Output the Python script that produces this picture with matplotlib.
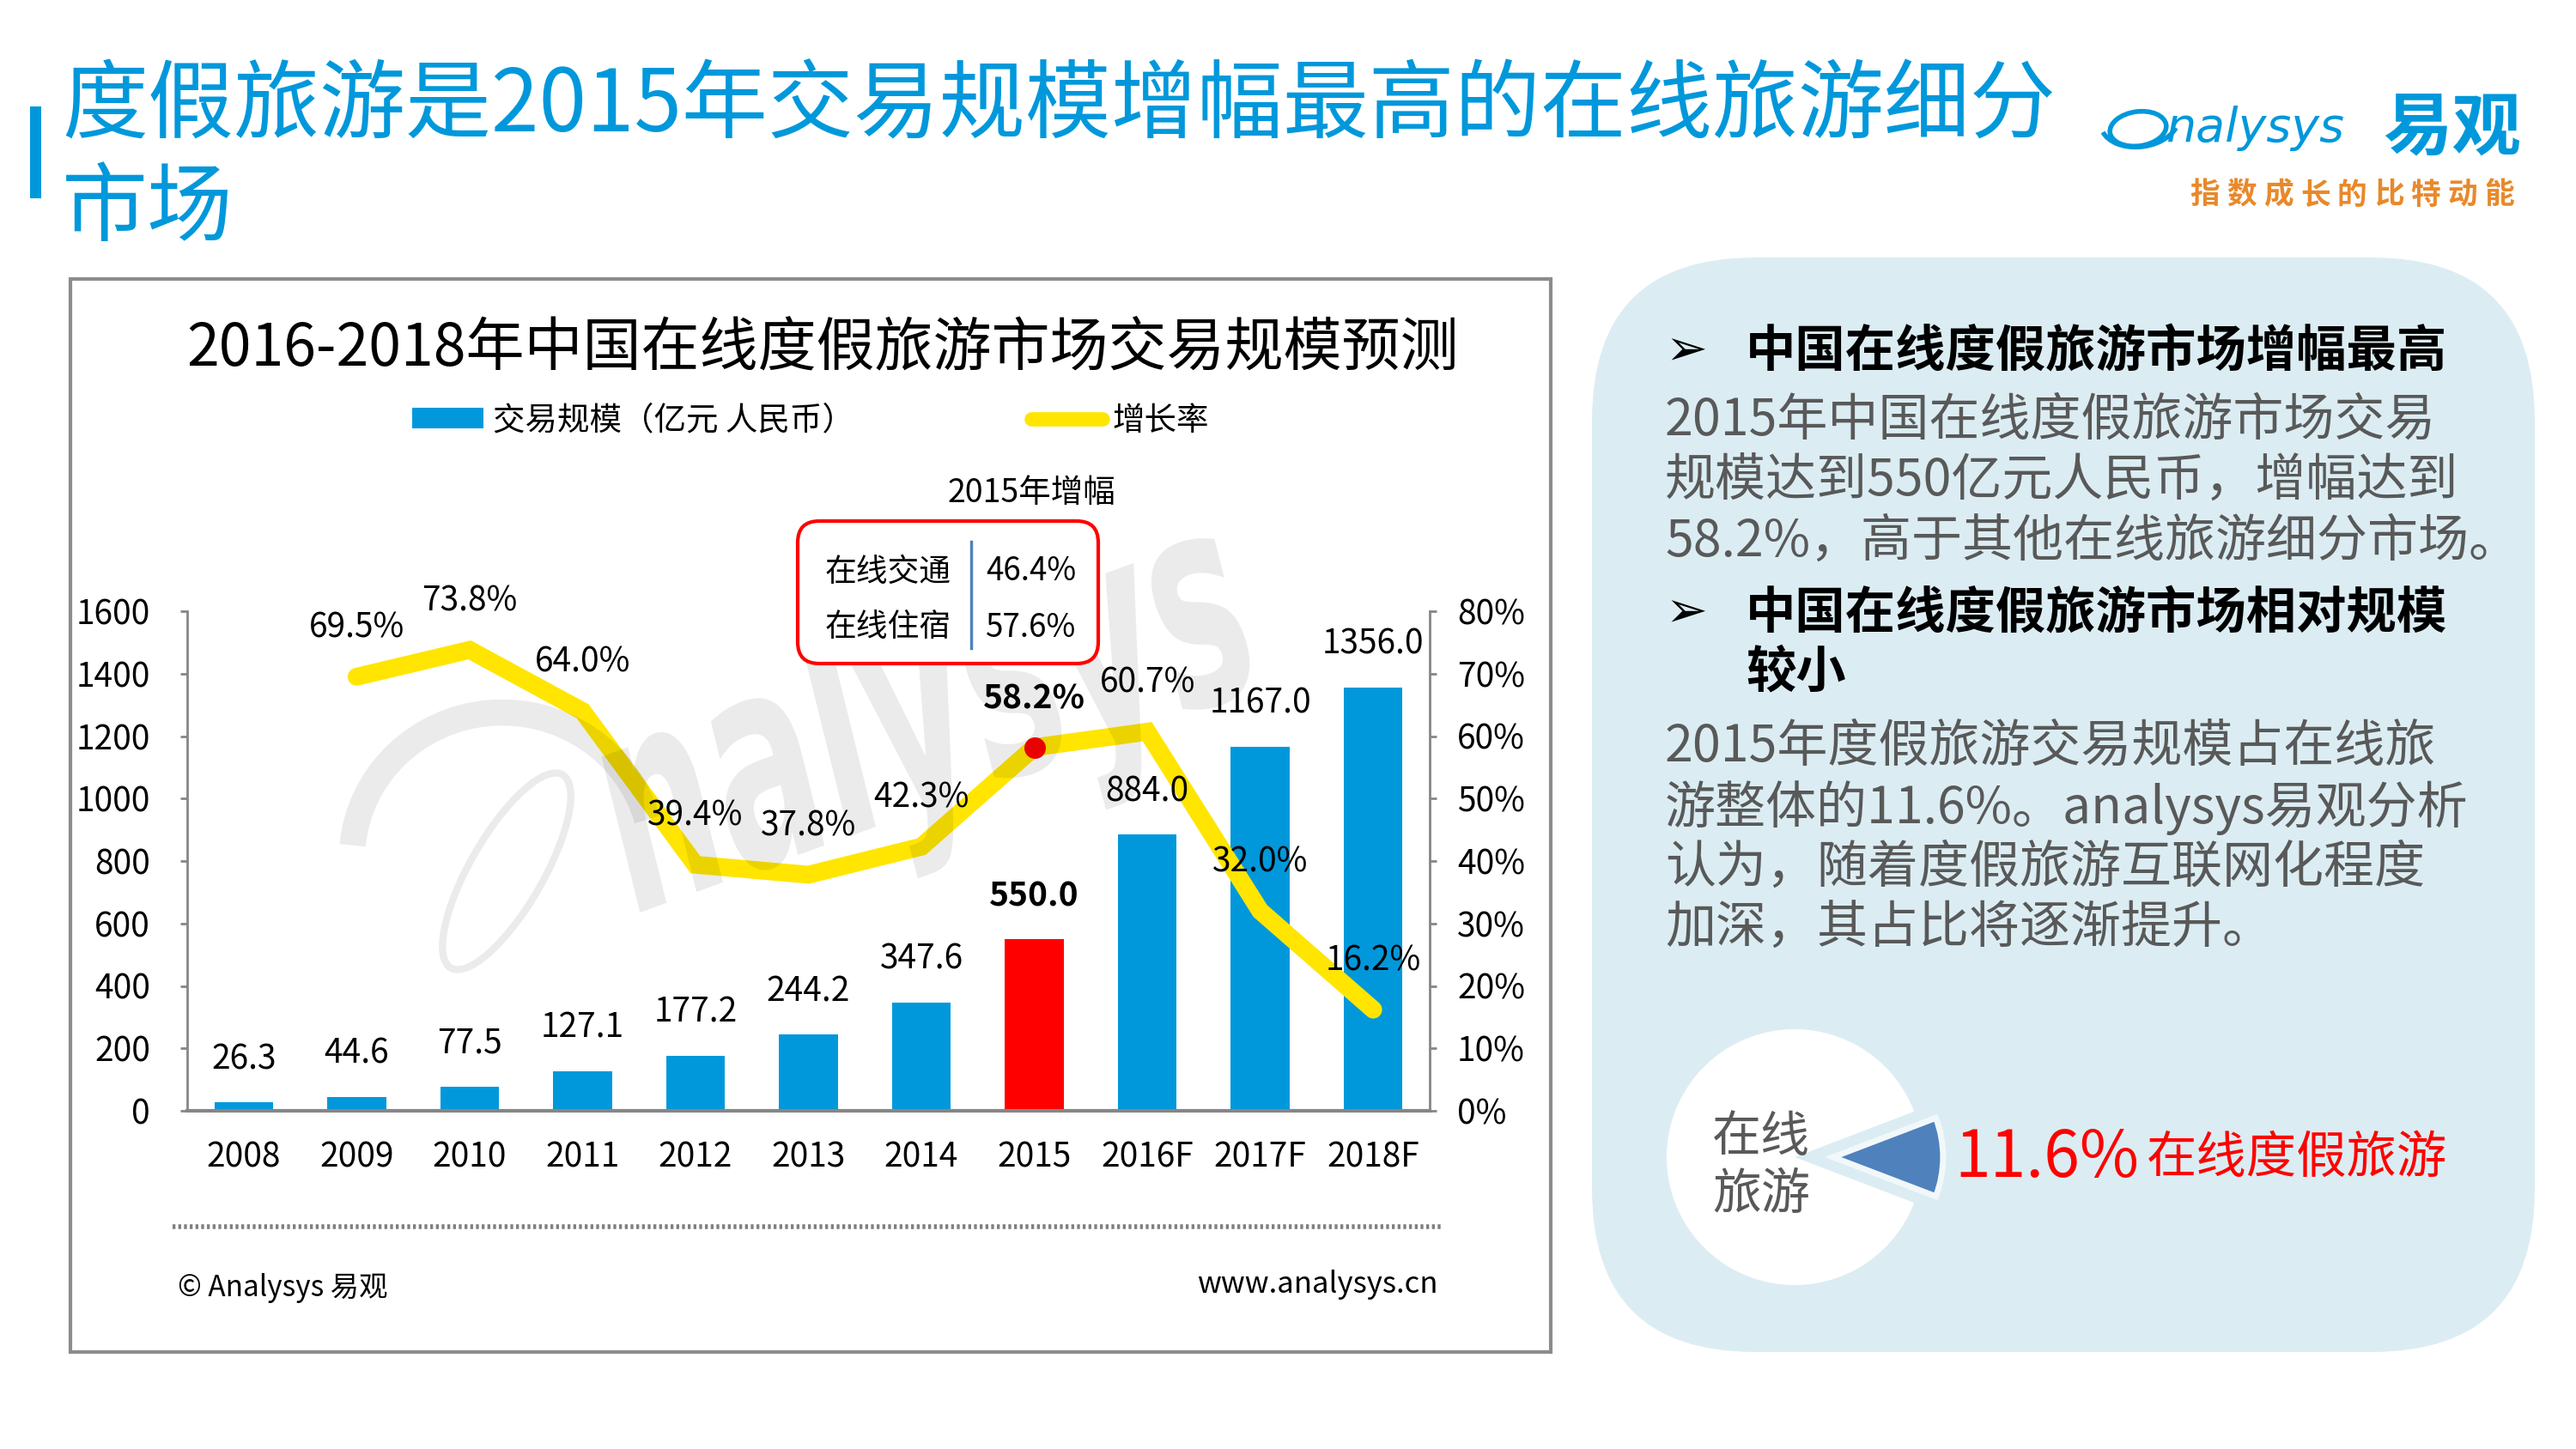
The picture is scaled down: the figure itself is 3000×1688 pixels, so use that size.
import matplotlib
matplotlib.use('Agg')
import matplotlib.pyplot as plt
from matplotlib.patches import Rectangle, FancyBboxPatch, Ellipse, Arc, PathPatch
from matplotlib.lines import Line2D
from matplotlib.ticker import FuncFormatter
from matplotlib.textpath import TextPath
from matplotlib.font_manager import FontProperties
from matplotlib.transforms import Affine2D
import numpy as np

plt.rcParams['font.family'] = ['Noto Sans CJK SC', 'DejaVu Sans']

# ---- data ----
years = ['2008', '2009', '2010', '2011', '2012', '2013', '2014', '2015', '2016F', '2017F', '2018F']
scale = [26.3, 44.6, 77.5, 127.1, 177.2, 244.2, 347.6, 550.0, 884.0, 1167.0, 1356.0]
growth_years = years[1:]
growth = [69.5, 73.8, 64.0, 39.4, 37.8, 42.3, 58.2, 60.7, 32.0, 16.2]
highlight = '2015'

seg_names = ['在线交通', '在线住宿']
seg_growth = [46.4, 57.6]

share_labels = ['在线度假旅游', '在线旅游']
share = [11.6, 88.4]

title = ['度假旅游是2015年交易规模增幅最高的在线旅游细分', '市场']
chart_title = '2016-2018年中国在线度假旅游市场交易规模预测'
legend_labels = ['交易规模（亿元 人民币）', '增长率']
heading1 = ['中国在线度假旅游市场增幅最高']
para1 = ['2015年中国在线度假旅游市场交易', '规模达到550亿元人民币，增幅达到',
         '58.2%，高于其他在线旅游细分市场。']
heading2 = ['中国在线度假旅游市场相对规模', '较小']
para2 = ['2015年度假旅游交易规模占在线旅', '游整体的11.6%。analysys易观分析',
         '认为，随着度假旅游互联网化程度', '加深，其占比将逐渐提升。']

BLUE = '#0098DB'
YELLOW = '#FFE500'
GRAY_TXT = '#595959'
AXIS_GRAY = '#868686'

W, H = 3000, 1688
fig = plt.figure(figsize=(W / 100, H / 100), dpi=100)


def frac(x0, y0, x1, y1):
    # pixel box (top-left origin) -> figure fraction
    return [x0 / W, 1 - y1 / H, (x1 - x0) / W, (y1 - y0) / H]


# background layer in pixel coords
bg = fig.add_axes([0, 0, 1, 1], zorder=0)
bg.set_xlim(0, W)
bg.set_ylim(H, 0)
bg.axis('off')

# page title
bg.add_patch(Rectangle((35, 124), 13, 107, color=BLUE, lw=0))
bg.text(72, 125, title[0], fontsize=72, color=BLUE, ha='left', va='center')
bg.text(72, 244, title[1], fontsize=72, color=BLUE, ha='left', va='center')

# logo
bg.add_patch(Ellipse((2490, 150), 66, 40, angle=-8, fill=False, ec=BLUE, lw=4))
bg.add_patch(Arc((2492, 140), 92, 62, angle=-8, theta1=20, theta2=170, ec=BLUE, lw=4))
bg.text(2522, 165, 'nalysys', fontsize=40, color=BLUE, style='italic',
        family='DejaVu Sans', ha='left', va='baseline')
bg.text(2856, 150, '易观', fontsize=58, color=BLUE, fontweight='bold', ha='center', va='center')
for i, ch in enumerate('指数成长的比特动能'):
    bg.text(2568 + i * 42.8, 227, ch, fontsize=25, color='#E8892B', fontweight='bold',
            ha='center', va='center')

# chart frame and footer
bg.add_patch(Rectangle((82, 325), 1724, 1250, fill=False, ec='#8C8C8C', lw=3))
bg.plot([201, 1680], [1429, 1429], color='#7F7F7F', lw=4, ls=(0, (0.6, 0.6)))
bg.text(207, 1500, '© Analysys 易观', fontsize=24, ha='left', va='center')
bg.text(1675, 1496, 'www.analysys.cn', fontsize=25, ha='right', va='center')
bg.text(958, 406, chart_title, fontsize=49, ha='center', va='center')

# right panel
bg.add_patch(FancyBboxPatch((1854, 300), 1098, 1275, boxstyle='round,pad=0,rounding_size=190',
                            fc='#DBEDF3', ec='none'))
bg.text(1940, 409, '➢', fontsize=42, ha='left', va='center')
bg.text(2033, 409, heading1[0], fontsize=42, fontweight='bold', ha='left', va='center')
for i, line in enumerate(para1):
    bg.text(1939, 490 + i * 70.5, line, fontsize=42.5, color=GRAY_TXT, ha='left', va='center')
bg.text(1940, 714, '➢', fontsize=42, ha='left', va='center')
for i, line in enumerate(heading2):
    bg.text(2033, 714 + i * 69, line, fontsize=42, fontweight='bold', ha='left', va='center')
for i, line in enumerate(para2):
    bg.text(1939, 870 + i * 70.7, line, fontsize=42.5, color=GRAY_TXT, ha='left', va='center')

# share pie
pax = fig.add_axes(frac(1890, 1148, 2290, 1548), zorder=1)
wedges, _ = pax.pie(share, colors=['#4F81BD', 'white'], startangle=-share[0] * 3.6 / 2,
                    explode=[0.3, 0], radius=1)
wedges[0].set_radius(0.86)
wedges[0].set_edgecolor('#F2F8FA')
wedges[0].set_linewidth(5)
pax.set_xlim(-1.342, 1.342)
pax.set_ylim(-1.342, 1.342)
pax.set_aspect('equal')
pax.text(-0.26, -0.07, share_labels[1][:2] + '\n' + share_labels[1][2:], fontsize=41,
         color=GRAY_TXT, ha='center', va='center', linespacing=1.2)
bg.text(2276, 1350, f'{share[0]}%', fontsize=54, color='red', ha='left', va='center')
bg.text(2500, 1349, share_labels[0], fontsize=42, color='red', ha='left', va='center')

# ---- main chart ----
ax = fig.add_axes(frac(218, 712, 1665, 1294), zorder=1)
ax.patch.set_alpha(0)
x = np.arange(len(years))
colors = ['#FF0000' if y == highlight else BLUE for y in years]
bars = ax.bar(x, scale, width=0.52, color=colors, zorder=2)
ax.set_xlim(-0.5, len(years) - 0.5)
ax.set_ylim(0, 1600)
ax.set_yticks(range(0, 1601, 200))
ax.set_xticks(x)
ax.set_xticklabels(years)
ax.spines['top'].set_visible(False)
ax.spines['right'].set_visible(False)
ax.spines['left'].set_color(AXIS_GRAY)
ax.spines['left'].set_linewidth(2)
ax.spines['bottom'].set_color(AXIS_GRAY)
ax.spines['bottom'].set_linewidth(3)
ax.tick_params(axis='y', length=6, width=2, color=AXIS_GRAY, pad=25, labelsize=28)
ax.tick_params(axis='x', length=0, pad=25, labelsize=28)

ax2 = ax.twinx()
ax2.set_ylim(0, 80)
ax2.set_yticks(range(0, 81, 10))
ax2.yaxis.set_major_formatter(FuncFormatter(lambda v, p: f'{v:.0f}%'))
for s in ['top', 'left', 'bottom']:
    ax2.spines[s].set_visible(False)
ax2.spines['right'].set_color(AXIS_GRAY)
ax2.spines['right'].set_linewidth(2)
ax2.tick_params(axis='y', length=6, width=2, color=AXIS_GRAY, pad=17, labelsize=28)
gx = x[1:]
ax2.plot(gx, growth, color=YELLOW, lw=15, solid_capstyle='round', solid_joinstyle='miter', zorder=3)
hi = growth_years.index(highlight)
ax2.plot(gx[hi], growth[hi], 'o', color='#FF0000', ms=17, zorder=4)
for xi, v, y in zip(gx, growth, growth_years):
    ax2.annotate(f'{v:.1f}%', (xi, v), xytext=(0, 41), textcoords='offset points',
                 ha='center', va='center', fontsize=28,
                 fontweight='bold' if y == highlight else 'normal', zorder=5)
# bar labels drawn above the line
for xi, v, y in zip(x, scale, years):
    ax2.annotate(f'{v:.1f}', (xi, v), xycoords=ax.transData, xytext=(0, 36),
                 textcoords='offset points', ha='center', va='center', fontsize=28,
                 fontweight='bold' if y == highlight else 'normal', zorder=5)

handles = [bars, Line2D([], [], color=YELLOW, lw=12, solid_capstyle='round')]
ax.legend(handles, legend_labels, loc='center', bbox_to_anchor=(944 / W, 1 - 490 / H),
          bbox_transform=fig.transFigure, ncol=2, frameon=False, fontsize=27,
          handlelength=2.2, handleheight=0.6, handletextpad=0.3, columnspacing=5.5)

# ---- foreground: watermark and 2015 box ----
fg = fig.add_axes([0, 0, 1, 1], zorder=3)
fg.set_xlim(0, W)
fg.set_ylim(H, 0)
fg.axis('off')
# swoosh of the watermark logo
fg.add_patch(Arc((585, 1000), 350, 340, theta1=185, theta2=345, ec='black', lw=22, alpha=0.08))
fg.add_patch(Ellipse((590, 1015), 260, 85, angle=-60, fill=False, ec='black', lw=6, alpha=0.08))
wm = TextPath((0, 0), 'nalysys', size=340,
              prop=FontProperties(family='DejaVu Sans', style='oblique', weight='bold'))
wm_tf = Affine2D().scale(0.55, -1).rotate_deg(-20).translate(740, 1065)
fg.add_patch(PathPatch(wm_tf.transform_path(wm), fc='black', ec='none', alpha=0.08))

fg.text(1201, 574, '2015年增幅', fontsize=27, ha='center', va='center')
fg.add_patch(FancyBboxPatch((929, 607), 350, 166, boxstyle='round,pad=0,rounding_size=25',
                            fc='white', ec='#FF0000', lw=3, zorder=2))
fg.plot([1131, 1131], [631, 755], color='#4F81BD', lw=2.5, zorder=3)
for i, (name, g) in enumerate(zip(seg_names, seg_growth)):
    yy = 666 + i * 65
    fg.text(1034, yy, name, fontsize=26.5, ha='center', va='center', zorder=3)
    fg.text(1201, yy, f'{g}%', fontsize=26.5, ha='center', va='center', zorder=3)

fig.savefig('out.png', dpi=100)
